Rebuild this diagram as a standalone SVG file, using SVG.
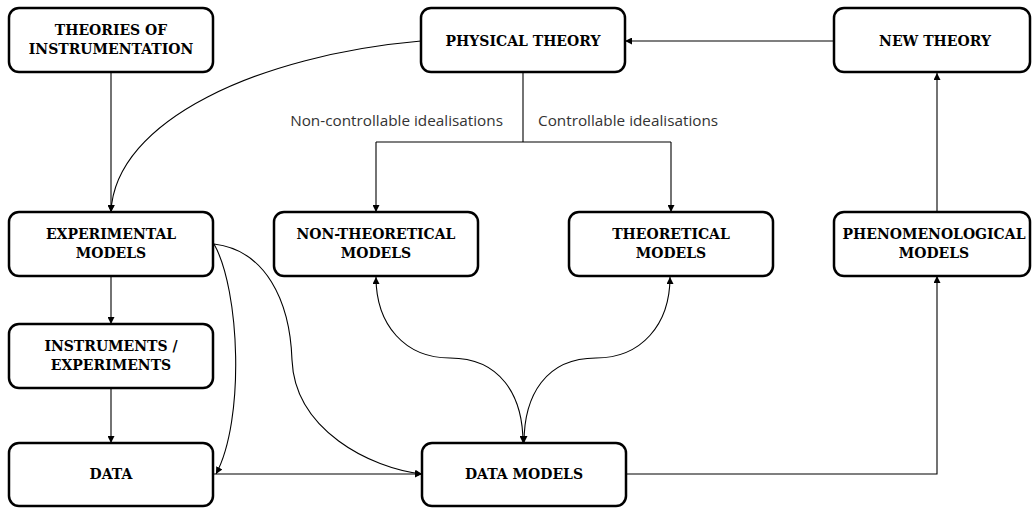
<svg xmlns="http://www.w3.org/2000/svg" width="1033" height="509" viewBox="0 0 1033 509">
<style>
.box{fill:#fff;stroke:#000;stroke-width:2.5}
.lbl{font-family:"DejaVu Serif",serif;font-weight:bold;font-size:14px;fill:#000;text-anchor:middle}
.edge{fill:none;stroke:#000;stroke-width:1.1}
.elbl{font-family:"Open Sans",sans-serif;font-size:15.3px;fill:#333}
</style>
<defs>
<marker id="ah" viewBox="0 0 10 10" refX="10" refY="5" markerWidth="7" markerHeight="7" markerUnits="userSpaceOnUse" orient="auto-start-reverse">
<path d="M0,0 L10,5 L0,10 z" fill="#000"/>
</marker>
</defs>
<rect width="1033" height="509" fill="#fff"/>
<g id="connectors">
<path class="edge" d="M111,72 V212" marker-end="url(#ah)"/>
<path class="edge" d="M421,41 C260,55 115,120 111,212" marker-end="url(#ah)"/>
<path class="edge" d="M111,276 V324" marker-end="url(#ah)"/>
<path class="edge" d="M111,388 V443" marker-end="url(#ah)"/>
<path class="edge" d="M213,474 H422" marker-end="url(#ah)"/>
<path class="edge" d="M214,244 C240,290 245,420 216,474" marker-end="url(#ah)"/>
<path class="edge" d="M214,244 C265,250 290,300 292,360 C295,430 370,468 422,474" marker-end="url(#ah)"/>
<path class="edge" d="M834,41 H625" marker-end="url(#ah)"/>
<path class="edge" d="M937,212 V73" marker-end="url(#ah)"/>
<path class="edge" d="M523,73 V142"/>
<path class="edge" d="M376,142 H671"/>
<path class="edge" d="M376,142 V212" marker-end="url(#ah)"/>
<path class="edge" d="M671,142 V212" marker-end="url(#ah)"/>
<path class="edge" d="M376,277 C376,325 405,358 450,358 C500,358 523,395 523,443" marker-start="url(#ah)" marker-end="url(#ah)"/>
<path class="edge" d="M670,277 C670,325 641,358 596,358 C546,358 524,395 524,443" marker-start="url(#ah)" marker-end="url(#ah)"/>
<path class="edge" d="M626,474 H937 V276" marker-end="url(#ah)"/>
<text class="elbl" x="503" y="126" text-anchor="end">Non-controllable idealisations</text>
<text class="elbl" x="538" y="126">Controllable idealisations</text>
</g>
<g id="theories-of-instrumentation">
<rect class="box" x="9" y="8" width="204" height="64" rx="10"/>
<text class="lbl" x="111" y="35">THEORIES OF</text>
<text class="lbl" x="111" y="54">INSTRUMENTATION</text>
</g>
<g id="physical-theory">
<rect class="box" x="421" y="8" width="204" height="64" rx="10"/>
<text class="lbl" x="523" y="46">PHYSICAL THEORY</text>
</g>
<g id="new-theory">
<rect class="box" x="834" y="8" width="196" height="64" rx="10"/>
<text class="lbl" x="935" y="46">NEW THEORY</text>
</g>
<g id="experimental-models">
<rect class="box" x="9" y="212" width="204" height="64" rx="10"/>
<text class="lbl" x="111" y="239">EXPERIMENTAL</text>
<text class="lbl" x="111" y="258">MODELS</text>
</g>
<g id="non-theoretical-models">
<rect class="box" x="274" y="212" width="204" height="64" rx="10"/>
<text class="lbl" x="376" y="239">NON-THEORETICAL</text>
<text class="lbl" x="376" y="258">MODELS</text>
</g>
<g id="theoretical-models">
<rect class="box" x="569" y="212" width="204" height="64" rx="10"/>
<text class="lbl" x="671" y="239">THEORETICAL</text>
<text class="lbl" x="671" y="258">MODELS</text>
</g>
<g id="phenomenological-models">
<rect class="box" x="834" y="212" width="196" height="64" rx="10"/>
<text class="lbl" x="934" y="239">PHENOMENOLOGICAL</text>
<text class="lbl" x="934" y="258">MODELS</text>
</g>
<g id="instruments-experiments">
<rect class="box" x="9" y="324" width="204" height="64" rx="10"/>
<text class="lbl" x="111" y="351">INSTRUMENTS /</text>
<text class="lbl" x="111" y="370">EXPERIMENTS</text>
</g>
<g id="data">
<rect class="box" x="9" y="443" width="204" height="63" rx="10"/>
<text class="lbl" x="111" y="479">DATA</text>
</g>
<g id="data-models">
<rect class="box" x="422" y="443" width="204" height="63" rx="10"/>
<text class="lbl" x="524" y="479">DATA MODELS</text>
</g>
</svg>
